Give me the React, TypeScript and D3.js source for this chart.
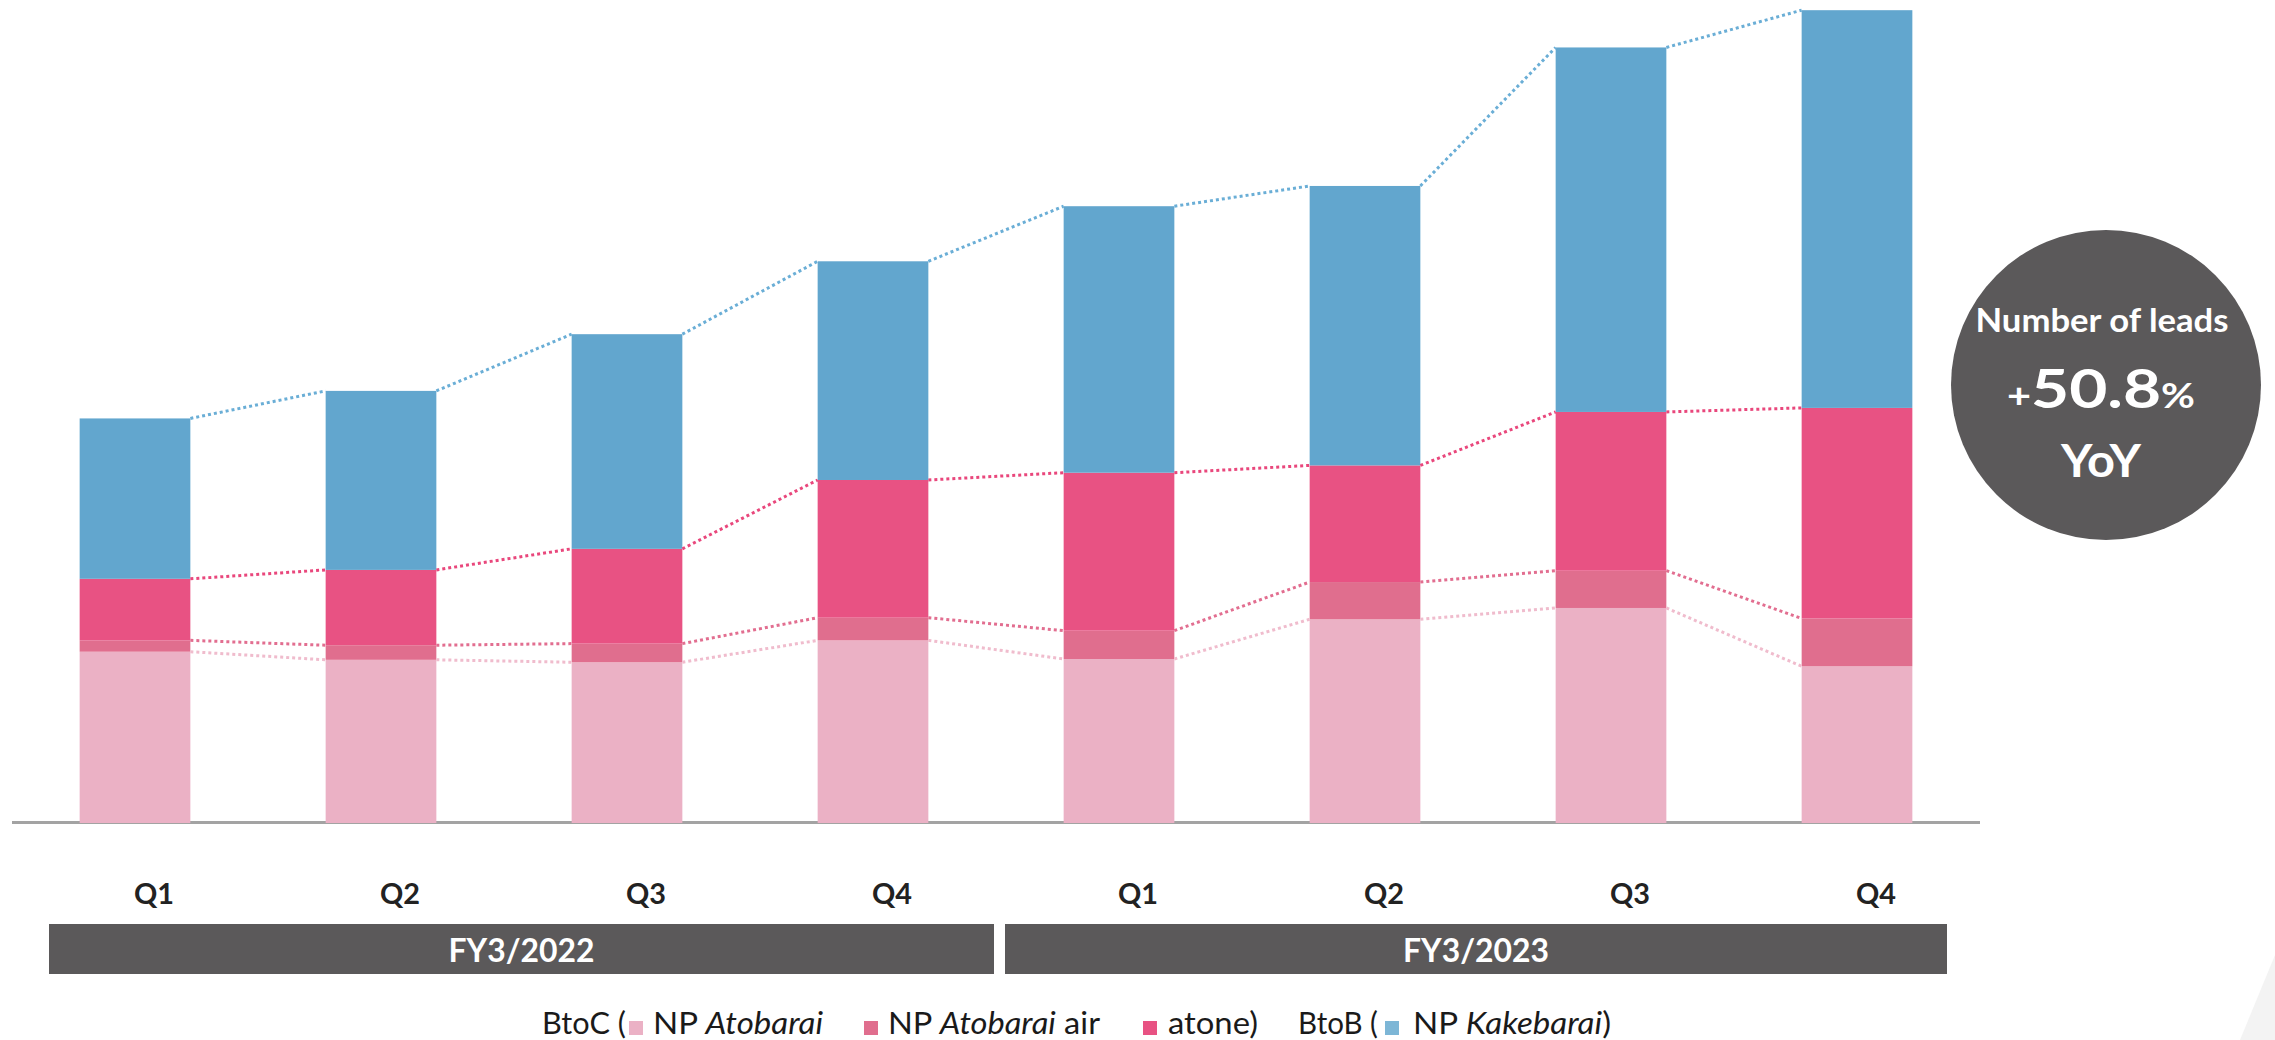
import React from 'react';
import * as d3 from 'd3';

// quarters (two fiscal years)
const quarters = ['Q1', 'Q2', 'Q3', 'Q4', 'Q1', 'Q2', 'Q3', 'Q4'];
const fiscalYears = ['FY3/2022', 'FY3/2023'];

// number of leads by service (relative units)
const npAtobarai = [20.9, 19.9, 19.6, 22.3, 20.0, 24.9, 26.3, 19.1];
const npAtobaraiAir = [1.4, 1.8, 2.3, 2.8, 3.5, 4.6, 4.6, 5.9];
const atone = [7.6, 9.3, 11.7, 17.0, 19.5, 14.4, 19.6, 26.0];
const npKakebarai = [19.8, 22.1, 26.5, 27.0, 32.9, 34.5, 45.0, 49.1];

const seriesKeys = ['atobarai', 'air', 'atone', 'kake'];
const colors = {
  atobarai: '#EBB1C5',
  air: '#E06E8E',
  atone: '#E85283',
  kake: '#62A6CE',
};
const lineColors = {
  atobarai: '#F0BCCD',
  air: '#E26E90',
  atone: '#E9477C',
  kake: '#6AAED6',
};

const W = 2275;
const H = 1040;
const baseY = 821;
const FONT = 'Lato, "Open Sans", sans-serif';

export default function App() {
  const rows = quarters.map((q, i) => ({
    idx: i,
    atobarai: npAtobarai[i],
    air: npAtobaraiAir[i],
    atone: atone[i],
    kake: npKakebarai[i],
  }));

  const x = d3
    .scaleBand<number>()
    .domain(d3.range(quarters.length))
    .range([12, 1980])
    .paddingInner(0.55)
    .paddingOuter(0.275);

  const y = d3.scaleLinear().domain([0, 100]).range([baseY, 11]);

  const stacked = d3.stack<any>().keys(seriesKeys)(rows);
  const bw = x.bandwidth();

  // dotted connectors between adjacent bar tops
  const connector = (s) => {
    const pts: [number, number][] = [];
    for (let i = 0; i < s.length - 1; i++) {
      pts.push([x(i)! + bw, y(s[i][1])], [x(i + 1)!, y(s[i + 1][1])]);
    }
    return pts;
  };

  const fyBands = [
    [49, 994],
    [1005, 1947],
  ];

  const legendSquares = [
    [629, colors.atobarai],
    [864, colors.air],
    [1143, colors.atone],
    [1385, '#7DB6D6'],
  ];

  return (
    <svg
      width={W}
      height={H}
      style={{ position: 'absolute', left: 0, top: 0, background: '#fff' }}
    >
      <rect width={W} height={H} fill="#fff" />
      <polygon points="2275,955 2240,1040 2275,1040" fill="#F3F3F3" />

      <line x1={12} x2={1980} y1={baseY + 1.5} y2={baseY + 1.5} stroke="#A3A3A3" strokeWidth={3} />

      {stacked.map((s) => (
        <g key={s.key}>
          {s.map((d, i) => (
            <rect
              key={i}
              x={x(i)}
              y={y(d[1])}
              width={bw}
              height={y(d[0]) - y(d[1]) + (s.key === 'atobarai' ? 2 : 0)}
              fill={colors[s.key]}
            />
          ))}
        </g>
      ))}

      {stacked.map((s) => {
        const pts = connector(s);
        return (
          <g key={'l' + s.key}>
            {d3.range(0, pts.length, 2).map((k) => (
              <line
                key={k}
                x1={pts[k][0]}
                y1={pts[k][1]}
                x2={pts[k + 1][0]}
                y2={pts[k + 1][1]}
                stroke={lineColors[s.key]}
                strokeWidth={3}
                strokeDasharray="3 3"
              />
            ))}
          </g>
        );
      })}

      {quarters.map((q, i) => (
        <text
          key={i}
          x={x(i)! + bw / 2 + 19}
          y={904}
          textAnchor="middle"
          fontFamily={FONT}
          fontWeight="bold"
          fontSize={28}
          textLength={40}
          lengthAdjust="spacingAndGlyphs"
          fill="#222"
        >
          {q}
        </text>
      ))}

      {fiscalYears.map((fy, i) => (
        <g key={fy}>
          <rect x={fyBands[i][0]} y={924} width={fyBands[i][1] - fyBands[i][0]} height={50} fill="#5B595A" />
          <text
            x={(fyBands[i][0] + fyBands[i][1]) / 2}
            y={962}
            textAnchor="middle"
            fontFamily={FONT}
            fontWeight="bold"
            fontSize={32}
            textLength={146}
            lengthAdjust="spacingAndGlyphs"
            fill="#fff"
          >
            {fy}
          </text>
        </g>
      ))}

      {/* YoY badge */}
      <circle cx={2106} cy={385} r={155} fill="#5B595A" />
      <text
        x={2102}
        y={332}
        textAnchor="middle"
        fontFamily={FONT}
        fontWeight="bold"
        fontSize={33}
        textLength={253}
        lengthAdjust="spacingAndGlyphs"
        fill="#fff"
      >
        Number of leads
      </text>
      <text
        x={2101}
        y={408}
        textAnchor="middle"
        fontFamily={FONT}
        fontWeight="bold"
        textLength={188}
        lengthAdjust="spacingAndGlyphs"
        fill="#fff"
      >
        <tspan fontSize={34}>+</tspan>
        <tspan fontSize={54}>50.8</tspan>
        <tspan fontSize={34}>%</tspan>
      </text>
      <text
        x={2101}
        y={477}
        textAnchor="middle"
        fontFamily={FONT}
        fontWeight="bold"
        fontSize={46}
        textLength={80}
        lengthAdjust="spacingAndGlyphs"
        fill="#fff"
      >
        YoY
      </text>

      {/* legend */}
      <g fontFamily={FONT} fontSize={30} fill="#1a1a1a">
        {legendSquares.map(([lx, c]) => (
          <rect key={lx as number} x={lx as number} y={1021} width={14} height={14} fill={c as string} />
        ))}
        <text x={542} y={1034} textLength={84} lengthAdjust="spacingAndGlyphs">BtoC (</text>
        <text x={653} y={1034} textLength={170} lengthAdjust="spacingAndGlyphs">
          NP <tspan fontStyle="italic">Atobarai</tspan>
        </text>
        <text x={888} y={1034} textLength={212} lengthAdjust="spacingAndGlyphs">
          NP <tspan fontStyle="italic">Atobarai</tspan> air
        </text>
        <text x={1168} y={1034} textLength={90} lengthAdjust="spacingAndGlyphs">atone)</text>
        <text x={1298} y={1034} textLength={80} lengthAdjust="spacingAndGlyphs">BtoB (</text>
        <text x={1413} y={1034} textLength={198} lengthAdjust="spacingAndGlyphs">
          NP <tspan fontStyle="italic">Kakebarai</tspan>)
        </text>
      </g>
    </svg>
  );
}
